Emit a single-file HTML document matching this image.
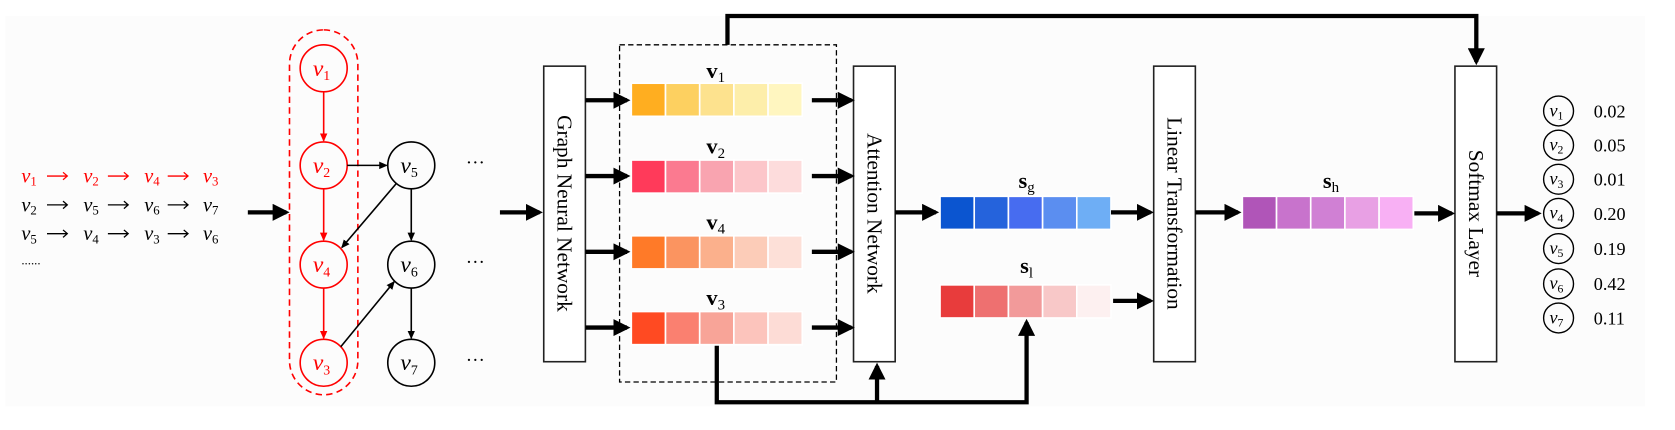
<!DOCTYPE html>
<html><head><meta charset="utf-8"><style>
html,body{margin:0;padding:0;background:#fff;}
svg{display:block;}
text{font-family:"Liberation Serif",serif;}
.it{font-style:italic;}
</style></head><body>
<svg width="1675" height="430" viewBox="0 0 1568 403" preserveAspectRatio="none" xmlns="http://www.w3.org/2000/svg">
<defs>
<marker id="ah" markerWidth="4" markerHeight="4" refX="3.2" refY="2" orient="auto" markerUnits="strokeWidth"><path d="M0,0 L4,2 L0,4 z" fill="#000"/></marker>
<marker id="sa" markerWidth="8" markerHeight="8" refX="7" refY="4" orient="auto" markerUnits="userSpaceOnUse"><path d="M0,0.5 L8,4 L0,7.5 z" fill="#000"/></marker>
<marker id="ra" markerWidth="8" markerHeight="8" refX="7" refY="4" orient="auto" markerUnits="userSpaceOnUse"><path d="M0,0.5 L8,4 L0,7.5 z" fill="#f00"/></marker>
</defs>
<rect x="5" y="15" width="1535" height="366" fill="#fcfcfc"/>

<!-- sequences -->
<g font-size="19">
<g fill="#f00">
<text x="20" y="171" class="it">v<tspan font-size="12" font-style="normal" dy="3">1</tspan></text>
<text x="78" y="171" class="it">v<tspan font-size="12" font-style="normal" dy="3">2</tspan></text>
<text x="135" y="171" class="it">v<tspan font-size="12" font-style="normal" dy="3">4</tspan></text>
<text x="190" y="171" class="it">v<tspan font-size="12" font-style="normal" dy="3">3</tspan></text>
</g>
<text x="20" y="198" class="it">v<tspan font-size="12" font-style="normal" dy="3">2</tspan></text>
<text x="78" y="198" class="it">v<tspan font-size="12" font-style="normal" dy="3">5</tspan></text>
<text x="135" y="198" class="it">v<tspan font-size="12" font-style="normal" dy="3">6</tspan></text>
<text x="190" y="198" class="it">v<tspan font-size="12" font-style="normal" dy="3">7</tspan></text>
<text x="20" y="225" class="it">v<tspan font-size="12" font-style="normal" dy="3">5</tspan></text>
<text x="78" y="225" class="it">v<tspan font-size="12" font-style="normal" dy="3">4</tspan></text>
<text x="135" y="225" class="it">v<tspan font-size="12" font-style="normal" dy="3">3</tspan></text>
<text x="190" y="225" class="it">v<tspan font-size="12" font-style="normal" dy="3">6</tspan></text>
<text x="20" y="248" font-size="12">......</text>
</g>
<g stroke-width="1.2" fill="none">
<g stroke="#f00">
<path d="M44,165 H63 M59,161.5 L63,165 L59,168.5 M101,165 H120 M116,161.5 L120,165 L116,168.5 M157,165 H176 M172,161.5 L176,165 L172,168.5"/>
</g>
<g stroke="#000">
<path d="M44,192 H63 M59,188.5 L63,192 L59,195.5 M101,192 H120 M116,188.5 L120,192 L116,195.5 M157,192 H176 M172,188.5 L176,192 L172,195.5"/>
<path d="M44,219 H63 M59,215.5 L63,219 L59,222.5 M101,219 H120 M116,215.5 L120,219 L116,222.5 M157,219 H176 M172,215.5 L176,219 L172,222.5"/>
</g>
</g>

<g stroke="#000" stroke-width="4" fill="none">
<line x1="232" y1="199" x2="268" y2="199" marker-end="url(#ah)"/>
<line x1="468" y1="199" x2="505" y2="199" marker-end="url(#ah)"/>
</g>

<!-- graph -->
<rect x="271" y="28" width="64" height="342" rx="32" fill="none" stroke="#f00" stroke-width="1.5" stroke-dasharray="6,4"/>
<g stroke="#f00" stroke-width="1.5" fill="none">
<circle cx="303" cy="64" r="22"/><circle cx="303" cy="155" r="22"/><circle cx="303" cy="248" r="22"/><circle cx="303" cy="340" r="22"/>
<line x1="303" y1="86" x2="303" y2="132" marker-end="url(#ra)"/>
<line x1="303" y1="177" x2="303" y2="225" marker-end="url(#ra)"/>
<line x1="303" y1="270" x2="303" y2="317" marker-end="url(#ra)"/>
</g>
<g stroke="#000" stroke-width="1.5" fill="none">
<circle cx="385" cy="155" r="22"/><circle cx="385" cy="248" r="22"/><circle cx="385" cy="340" r="22"/>
<line x1="325" y1="155" x2="362" y2="155" marker-end="url(#sa)"/>
<line x1="385" y1="177" x2="385" y2="225" marker-end="url(#sa)"/>
<line x1="385" y1="270" x2="385" y2="317" marker-end="url(#sa)"/>
<line x1="371" y1="172" x2="320" y2="232" marker-end="url(#sa)"/>
<line x1="319" y1="325" x2="369" y2="264" marker-end="url(#sa)"/>
</g>
<g font-size="22" text-anchor="middle">
<g fill="#f00">
<text x="301" y="71" class="it">v<tspan font-size="13" font-style="normal" dy="4">1</tspan></text>
<text x="301" y="162" class="it">v<tspan font-size="13" font-style="normal" dy="4">2</tspan></text>
<text x="301" y="255" class="it">v<tspan font-size="13" font-style="normal" dy="4">4</tspan></text>
<text x="301" y="347" class="it">v<tspan font-size="13" font-style="normal" dy="4">3</tspan></text>
</g>
<text x="383" y="162" class="it">v<tspan font-size="13" font-style="normal" dy="4">5</tspan></text>
<text x="383" y="255" class="it">v<tspan font-size="13" font-style="normal" dy="4">6</tspan></text>
<text x="383" y="347" class="it">v<tspan font-size="13" font-style="normal" dy="4">7</tspan></text>
<text x="445" y="158" font-size="18">···</text>
<text x="445" y="251" font-size="18">···</text>
<text x="445" y="343" font-size="18">···</text>
</g>

<!-- boxes -->
<g fill="#fff" stroke="#222" stroke-width="1.5">
<rect x="509" y="62" width="39" height="277"/>
<rect x="799" y="62" width="39" height="277"/>
<rect x="1080" y="62" width="39" height="277"/>
<rect x="1362" y="62" width="39" height="277"/>
</g>
<g font-size="20" text-anchor="middle">
<text transform="translate(522,200) rotate(90)">Graph Neural Network</text>
<text transform="translate(812,200) rotate(90)">Attention Network</text>
<text transform="translate(1093,200) rotate(90)">Linear Transformation</text>
<text transform="translate(1375,200) rotate(90)">Softmax Layer</text>
</g>

<rect x="580" y="42" width="203" height="316" fill="none" stroke="#000" stroke-width="1.2" stroke-dasharray="5,3"/>

<!-- vector bars -->
<g stroke="#fff" stroke-width="1.5">
<rect x="591" y="78" width="32" height="31" fill="#ffae20"/><rect x="623" y="78" width="32" height="31" fill="#fdd060"/><rect x="655" y="78" width="32" height="31" fill="#fde28e"/><rect x="687" y="78" width="32" height="31" fill="#fdeeaa"/><rect x="719" y="78" width="32" height="31" fill="#fff6c0"/>
<rect x="591" y="150" width="32" height="31" fill="#ff3a5a"/><rect x="623" y="150" width="32" height="31" fill="#fb7a90"/><rect x="655" y="150" width="32" height="31" fill="#f9a4b0"/><rect x="687" y="150" width="32" height="31" fill="#fcc6ca"/><rect x="719" y="150" width="32" height="31" fill="#fddcdc"/>
<rect x="591" y="221" width="32" height="31" fill="#ff7a28"/><rect x="623" y="221" width="32" height="31" fill="#fb9460"/><rect x="655" y="221" width="32" height="31" fill="#fbb08c"/><rect x="687" y="221" width="32" height="31" fill="#fcccb8"/><rect x="719" y="221" width="32" height="31" fill="#fde0d8"/>
<rect x="591" y="292" width="32" height="31" fill="#ff4a22"/><rect x="623" y="292" width="32" height="31" fill="#fa8070"/><rect x="655" y="292" width="32" height="31" fill="#f8a498"/><rect x="687" y="292" width="32" height="31" fill="#fcc4bc"/><rect x="719" y="292" width="32" height="31" fill="#fddcd6"/>
<rect x="880" y="184" width="32" height="31" fill="#0b55d0"/><rect x="912" y="184" width="32" height="31" fill="#2563dc"/><rect x="944" y="184" width="32" height="31" fill="#476cf0"/><rect x="976" y="184" width="32" height="31" fill="#5b8ef0"/><rect x="1008" y="184" width="32" height="31" fill="#6eaef5"/>
<rect x="880" y="267" width="32" height="31" fill="#e83c3c"/><rect x="912" y="267" width="32" height="31" fill="#ee7070"/><rect x="944" y="267" width="32" height="31" fill="#f29a9a"/><rect x="976" y="267" width="32" height="31" fill="#f8c8c8"/><rect x="1008" y="267" width="32" height="31" fill="#fdf0f0"/>
<rect x="1163" y="184" width="32" height="31" fill="#b055b8"/><rect x="1195" y="184" width="32" height="31" fill="#c873cc"/><rect x="1227" y="184" width="32" height="31" fill="#d080d4"/><rect x="1259" y="184" width="32" height="31" fill="#e8a0e4"/><rect x="1291" y="184" width="32" height="31" fill="#f8b0f4"/>
</g>
<g font-size="21" font-weight="bold" text-anchor="middle">
<text x="670" y="73">v<tspan font-size="14" font-weight="normal" dy="4">1</tspan></text>
<text x="670" y="144">v<tspan font-size="14" font-weight="normal" dy="4">2</tspan></text>
<text x="670" y="215">v<tspan font-size="14" font-weight="normal" dy="4">4</tspan></text>
<text x="670" y="286">v<tspan font-size="14" font-weight="normal" dy="4">3</tspan></text>
<text x="961" y="176">s<tspan font-size="14" font-weight="normal" dy="4">g</tspan></text>
<text x="961" y="256">s<tspan font-size="14" font-weight="normal" dy="4">l</tspan></text>
<text x="1246" y="176">s<tspan font-size="14" font-weight="normal" dy="4">h</tspan></text>
</g>

<!-- thick arrows -->
<g stroke="#000" stroke-width="4" fill="none">
<line x1="548" y1="94" x2="587" y2="94" marker-end="url(#ah)"/>
<line x1="548" y1="165" x2="587" y2="165" marker-end="url(#ah)"/>
<line x1="548" y1="236" x2="587" y2="236" marker-end="url(#ah)"/>
<line x1="548" y1="307" x2="587" y2="307" marker-end="url(#ah)"/>
<line x1="760" y1="94" x2="797" y2="94" marker-end="url(#ah)"/>
<line x1="760" y1="165" x2="797" y2="165" marker-end="url(#ah)"/>
<line x1="760" y1="236" x2="797" y2="236" marker-end="url(#ah)"/>
<line x1="760" y1="307" x2="797" y2="307" marker-end="url(#ah)"/>
<line x1="838" y1="199" x2="876" y2="199" marker-end="url(#ah)"/>
<line x1="1040" y1="199" x2="1077" y2="199" marker-end="url(#ah)"/>
<line x1="1042" y1="282" x2="1077" y2="282" marker-end="url(#ah)"/>
<line x1="1119" y1="199" x2="1159" y2="199" marker-end="url(#ah)"/>
<line x1="1324" y1="200" x2="1359" y2="200" marker-end="url(#ah)"/>
<line x1="1401" y1="200" x2="1440" y2="200" marker-end="url(#ah)"/>
<polyline points="681,42 681,15 1382,15 1382,58" marker-end="url(#ah)"/>
<polyline points="671,324 671,377 961,377 961,302" marker-end="url(#ah)"/>
<polyline points="821,377 821,343" marker-end="url(#ah)"/>
</g>

<!-- outputs -->
<g stroke="#000" stroke-width="1.3" fill="none">
<circle cx="1459" cy="104" r="14"/><circle cx="1459" cy="136" r="14"/><circle cx="1459" cy="168" r="14"/><circle cx="1459" cy="200" r="14"/><circle cx="1459" cy="233" r="14"/><circle cx="1459" cy="266" r="14"/><circle cx="1459" cy="298" r="14"/>
</g>
<g font-size="17" text-anchor="middle">
<text x="1457" y="109" class="it">v<tspan font-size="11" font-style="normal" dy="3">1</tspan></text>
<text x="1457" y="141" class="it">v<tspan font-size="11" font-style="normal" dy="3">2</tspan></text>
<text x="1457" y="173" class="it">v<tspan font-size="11" font-style="normal" dy="3">3</tspan></text>
<text x="1457" y="205" class="it">v<tspan font-size="11" font-style="normal" dy="3">4</tspan></text>
<text x="1457" y="238" class="it">v<tspan font-size="11" font-style="normal" dy="3">5</tspan></text>
<text x="1457" y="271" class="it">v<tspan font-size="11" font-style="normal" dy="3">6</tspan></text>
<text x="1457" y="303" class="it">v<tspan font-size="11" font-style="normal" dy="3">7</tspan></text>
</g>
<g font-size="17">
<text x="1492" y="110">0.02</text><text x="1492" y="142">0.05</text><text x="1492" y="174">0.01</text><text x="1492" y="206">0.20</text><text x="1492" y="239">0.19</text><text x="1492" y="272">0.42</text><text x="1492" y="304">0.11</text>
</g>
</svg>
</body></html>
